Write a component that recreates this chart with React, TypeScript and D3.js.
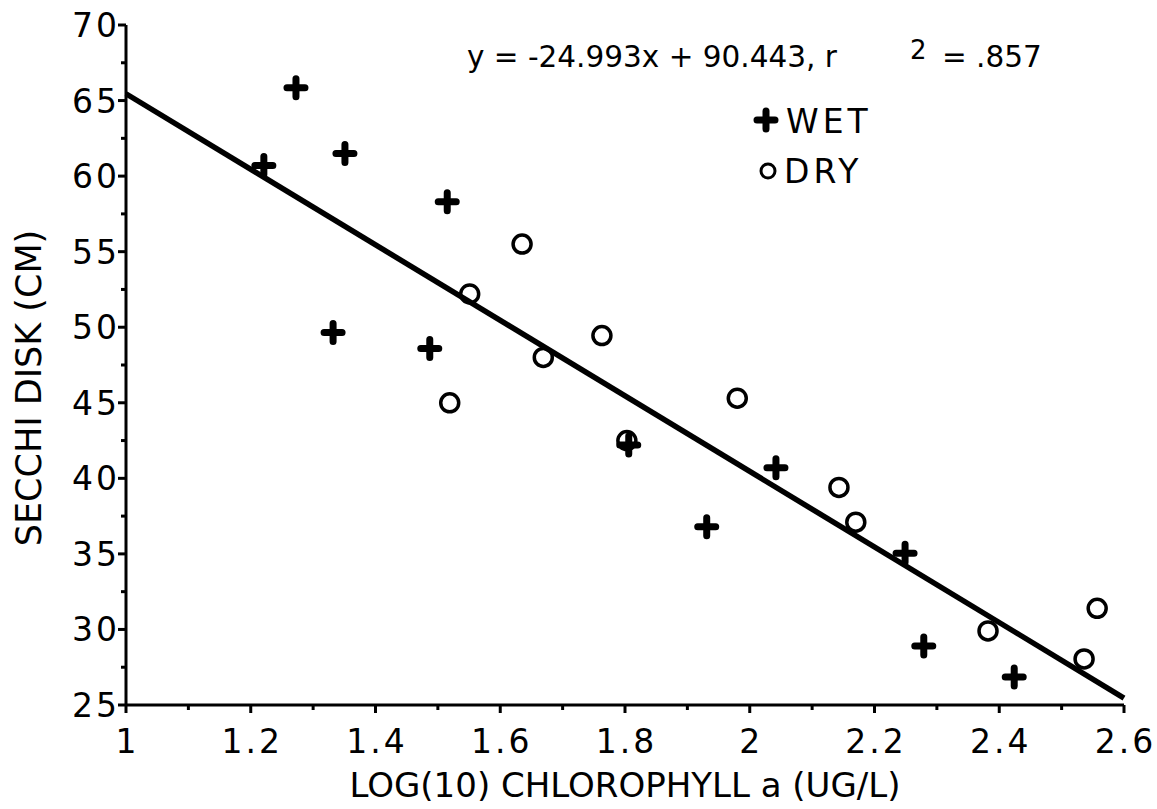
import React, {JSX} from "react";
import * as d3 from "d3";

// wet season samples: log10 chlorophyll a, secchi depth
const wetX = [1.221, 1.2725, 1.332, 1.351, 1.487, 1.515, 1.806, 1.931, 2.042, 2.249, 2.279, 2.424];
const wetY = [60.7, 65.85, 49.65, 61.5, 48.6, 58.3, 42.2, 36.8, 40.7, 35.05, 28.9, 26.85];

// dry season samples
const dryX = [1.519, 1.551, 1.635, 1.669, 1.763, 1.803, 1.98, 2.143, 2.17, 2.382, 2.536, 2.557];
const dryY = [45.0, 52.2, 55.5, 48.0, 49.45, 42.5, 45.3, 39.4, 37.1, 29.9, 28.05, 31.4];

const slope = -24.993;
const intercept = 90.443;

const xTicks = [1, 1.2, 1.4, 1.6, 1.8, 2, 2.2, 2.4, 2.6];
const yTicks = [25, 30, 35, 40, 45, 50, 55, 60, 65, 70];

const font = "'DejaVu Sans', 'Liberation Sans', sans-serif";

export default function App(): JSX.Element {
    const width = 1157;
    const height = 809;
    const x = d3.scaleLinear([1, 2.6], [126, 1124]);
    const y = d3.scaleLinear([25, 70], [705, 25]);

    const fitLine = d3.line<number>(d => x(d), d => y(slope * d + intercept));
    const xMinor = d3.range(1.1, 2.6, 0.2);
    const yMinor = d3.range(27.5, 70, 5);

    const wet = wetX.map((v, i) => [v, wetY[i]]);
    const dry = dryX.map((v, i) => [v, dryY[i]]);

    const plus = (cx: number, cy: number, k: string | number) => (
        <path key={k} d={`M${cx - 9},${cy}H${cx + 9}M${cx},${cy - 9}V${cy + 9}`}
              stroke="black" strokeWidth={7} strokeLinecap="round" fill="none"/>
    );

    return (
        <svg width={width} height={height} style={{position: "absolute", left: 0, top: 0, background: "white"}}
             fontFamily={font}>
            {/* axes */}
            <g stroke="black" strokeWidth={3} fill="none">
                <line x1={x(1)} x2={x(2.6)} y1={y(25)} y2={y(25)}/>
                <line x1={x(1)} x2={x(1)} y1={y(25)} y2={y(70)}/>
                {xTicks.map(t => <line key={t} x1={x(t)} x2={x(t)} y1={y(25)} y2={y(25) + 8}/>)}
                {xMinor.map(t => <line key={t} x1={x(t)} x2={x(t)} y1={y(25)} y2={y(25) + 5}/>)}
                {yTicks.map(t => <line key={t} x1={x(1) - 8} x2={x(1)} y1={y(t)} y2={y(t)}/>)}
                {yMinor.map(t => <line key={t} x1={x(1) - 5} x2={x(1)} y1={y(t)} y2={y(t)}/>)}
            </g>
            <g fontSize={33} fill="black" letterSpacing={3}>
                {xTicks.map(t => (
                    <text key={t} x={x(t) + 1.5} y={y(25) + 48} textAnchor="middle">{d3.format("")(t)}</text>
                ))}
                {yTicks.map(t => (
                    <text key={t} x={x(1) - 6} y={y(t) + 12} textAnchor="end">{t}</text>
                ))}
            </g>
            <text x={625} y={797} fontSize={34} textAnchor="middle">
                LOG(10) CHLOROPHYLL a (UG/L)
            </text>
            <text transform={`translate(41,388) rotate(-90)`} fontSize={35} textAnchor="middle">
                SECCHI DISK (CM)
            </text>

            {/* regression */}
            <path d={fitLine([1, 2.6]) as string} stroke="black" strokeWidth={5.5} fill="none"/>
            <text x={467} y={67} fontSize={29.5}>y = -24.993x + 90.443, r</text>
            <text x={910} y={59} fontSize={26}>2</text>
            <text x={942} y={67} fontSize={29.5}>= .857</text>

            {/* legend */}
            {plus(766, 120, "lw")}
            <text x={786} y={133} fontSize={33} letterSpacing={4}>WET</text>
            <circle cx={768} cy={171} r={7} stroke="black" strokeWidth={3} fill="none"/>
            <text x={784} y={183} fontSize={33} letterSpacing={4}>DRY</text>

            {/* points */}
            <g fill="none" stroke="black" strokeWidth={3.5}>
                {dry.map((d, i) => <circle key={i} cx={x(d[0])} cy={y(d[1])} r={9}/>)}
            </g>
            <g>{wet.map((d, i) => plus(x(d[0]), y(d[1]), i))}</g>
        </svg>
    );
}
